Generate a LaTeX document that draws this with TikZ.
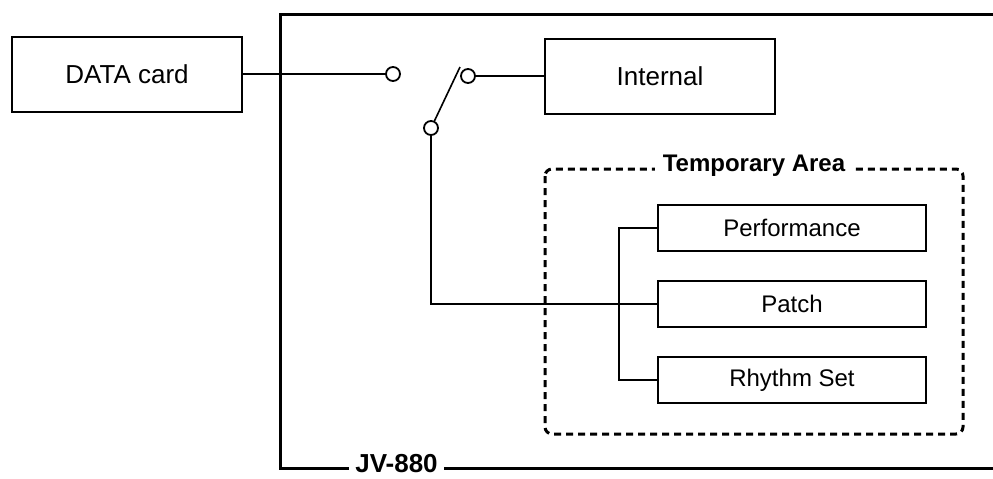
\documentclass[tikz,border=0pt]{standalone}
\usepackage{fontspec}
\setmainfont{Liberation Sans}
\begin{document}
\begin{tikzpicture}[x=0.5pt,y=-0.5pt,
  bigbox/.style={draw,line width=1pt,minimum width=115pt,minimum height=37.5pt,inner sep=0pt,font=\fontsize{13}{15}\selectfont},
  smallbox/.style={draw,line width=1pt,minimum width=134pt,minimum height=23pt,inner sep=0pt,font=\fontsize{12}{14}\selectfont},
  contact/.style={circle,draw,line width=0.9pt,minimum size=7pt,inner sep=0pt,fill=white},
  wire/.style={line width=0.8pt},
  frame/.style={line width=1.5pt},
  tmpbox/.style={line width=1.5pt,dash pattern=on 3.5pt off 2.5pt,rounded corners=3.5pt},
  lbl/.style={fill=white,inner xsep=4pt,inner ysep=1pt,font=\bfseries\fontsize{12}{14}\selectfont}]
\useasboundingbox (0,0) rectangle (993,478);

% JV-880 frame
\coordinate (ftr) at (993,14);
\coordinate (ftl) at (280,14);
\coordinate (fbl) at (280,468);
\coordinate (fbr) at (993,468);
\draw[frame] (ftr) -- (ftl) -- (fbl) -- (fbr);
\node[lbl,font=\bfseries\fontsize{13}{15}\selectfont,inner xsep=3pt,inner ysep=0pt] (jv) at (396.5,464) {JV-880};

% boxes
\node[bigbox] (data) at (127,74) {DATA card};
\node[bigbox] (internal) at (660,76) {Internal};
\node[smallbox] (perf) at (792,228) {Performance};
\node[smallbox] (patch) at (792,304) {Patch};
\node[smallbox] (rhythm) at (792,380) {Rhythm Set};

% temporary area
\draw[tmpbox] (545,169) rectangle (963,434);
\node[lbl] (tmp) at (754,166) {Temporary Area};

% switch contacts
\node[contact] (c1) at (393,74) {};
\node[contact] (c2) at (468,76) {};
\node[contact] (c3) at (431,128) {};
\coordinate (lever) at (460,67);

% connectors
\draw[wire] (data.east) -- (c1.west);
\draw[wire] (c2.east) -- (internal.west);
\draw[wire] (c3.64) -- (lever);
\draw[wire] (c3.south) |- (patch.west);
\draw[wire] (perf.west) -- ++(-38,0) |- (rhythm.west);
\end{tikzpicture}
\end{document}
